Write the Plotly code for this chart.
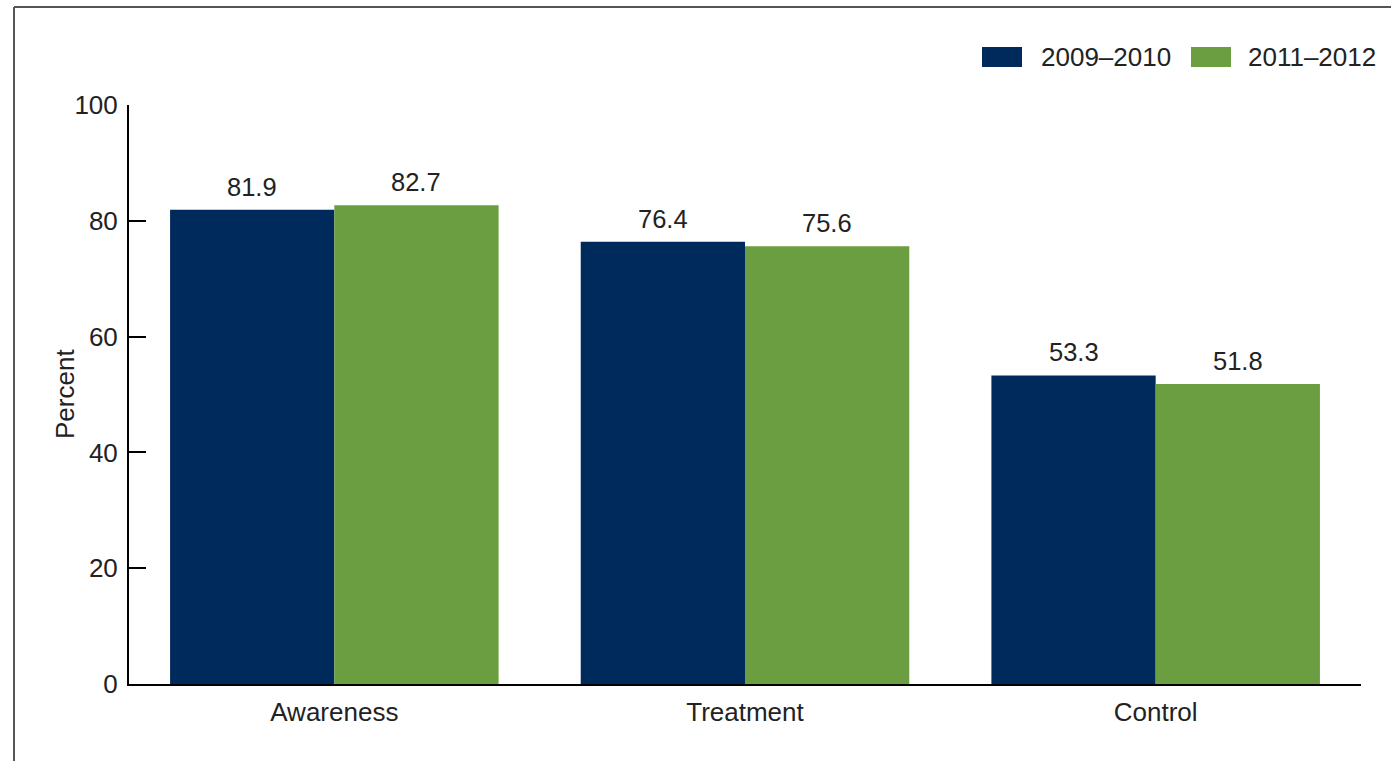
import plotly.graph_objects as go

categories = ["Awareness", "Treatment", "Control"]
series_names = ["2009\u20132010", "2011\u20132012"]
values_2009_2010 = [81.9, 76.4, 53.3]
values_2011_2012 = [82.7, 75.6, 51.8]
y_ticks = [0, 20, 40, 60, 80, 100]

colors = ["#002A5C", "#6B9E40"]
FONT = "Liberation Sans, Arial, sans-serif"
FS = 26

fig = go.Figure()
series = [values_2009_2010, values_2011_2012]
xs = list(range(len(categories)))
for name, vals, col in zip(series_names, series, colors):
    fig.add_trace(go.Bar(x=xs, y=vals, name=name, marker=dict(color=col, line=dict(width=0)),
                         showlegend=False))

# value labels above bars
bar_w = 0.8 / len(series)
for si, vals in enumerate(series):
    off = -0.4 + bar_w * (si + 0.5)
    for i, v in enumerate(vals):
        fig.add_annotation(x=xs[i] + off, y=v, text=f"{v:.1f}", showarrow=False,
                           xref="x", yref="y", yanchor="bottom", yshift=7,
                           font=dict(family=FONT, size=25.5, color="#222"))

W, H = 1391, 761
ml, mr, mt, mb = 129, 30, 105, 77
pw, ph = W - ml - mr, H - mt - mb

def px2paper(px, py):
    return (px - ml) / pw, (H - mb - py) / ph

# custom legend
leg_items = [(982, 1039), (1191, 1246)]
for (sx, tx), name, col in zip(leg_items, series_names, colors):
    x0, y0 = px2paper(sx, 67)
    x1, y1 = px2paper(sx + 40, 47)
    fig.add_shape(type="rect", xref="paper", yref="paper", x0=x0, x1=x1, y0=y0, y1=y1,
                  fillcolor=col, line=dict(width=0))
    tx_p, ty_p = px2paper(tx, 57)
    fig.add_annotation(xref="paper", yref="paper", x=tx_p, y=ty_p, text=name, showarrow=False,
                       xanchor="left", yanchor="middle", font=dict(family=FONT, size=FS, color="#222"))

# y axis title
tx_p, ty_p = px2paper(65, 394)
fig.add_annotation(xref="paper", yref="paper", x=tx_p, y=ty_p, text="Percent", showarrow=False,
                   textangle=-90, xanchor="center", yanchor="middle",
                   font=dict(family=FONT, size=FS, color="#222"))

# outer frame (left and top edges)
fx0, fy0 = px2paper(14, 7)
fig.add_shape(type="line", xref="paper", yref="paper", x0=fx0, x1=fx0, y0=fy0, y1=-0.3,
              line=dict(color="#555", width=2))
fig.add_shape(type="line", xref="paper", yref="paper", x0=fx0, x1=1.2, y0=fy0, y1=fy0,
              line=dict(color="#555", width=2))

fig.update_layout(
    width=W, height=H,
    margin=dict(l=ml, r=mr, t=mt, b=mb),
    paper_bgcolor="white", plot_bgcolor="white",
    barmode="group", bargap=0.2, bargroupgap=0,
    font=dict(family=FONT, size=FS, color="#222"),
    xaxis=dict(tickmode="array", tickvals=xs, ticktext=categories, range=[-0.5, 2.5],
               showline=True, linecolor="black", linewidth=2, ticks="", showgrid=False,
               zeroline=False, tickfont=dict(size=FS), ticklabelstandoff=4),
    yaxis=dict(range=[0, 100], tickvals=y_ticks, showline=True, linecolor="black", linewidth=2,
               ticks="inside", ticklen=17, tickwidth=2, tickcolor="black", showgrid=False,
               zeroline=False, ticklabelstandoff=4, tickfont=dict(size=FS)),
)

fig.write_html("out.html")
